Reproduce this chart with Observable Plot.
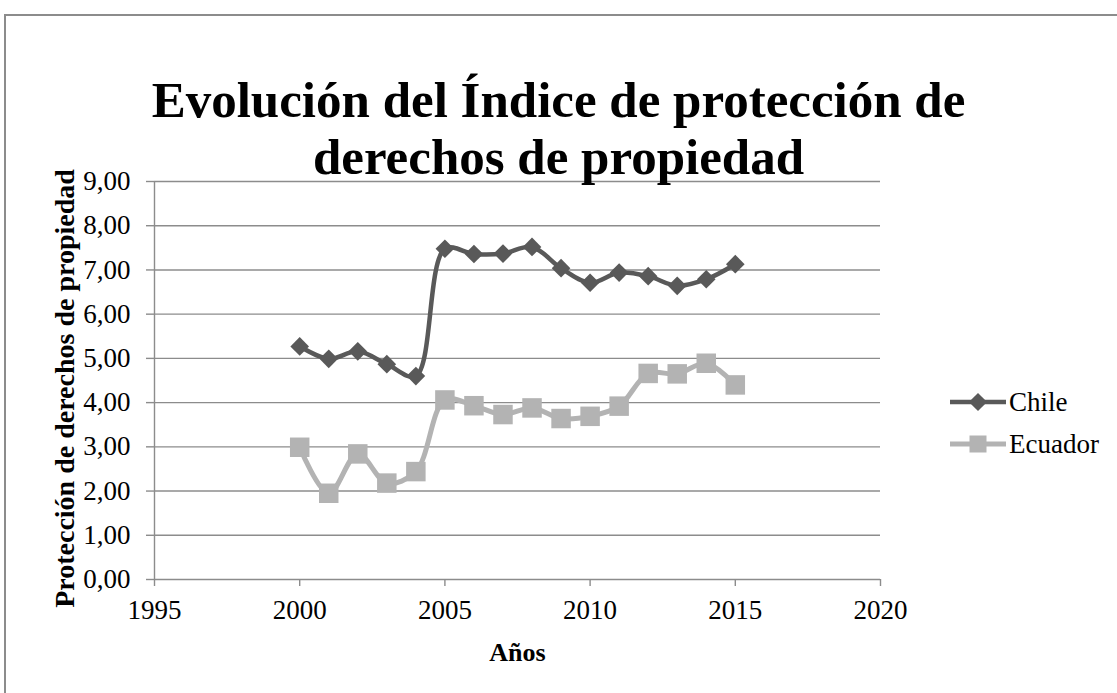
<!DOCTYPE html>
<html>
<head>
<meta charset="utf-8">
<script src="https://cdn.jsdelivr.net/npm/d3@7"></script>
<script src="https://cdn.jsdelivr.net/npm/@observablehq/plot@0.6"></script>
<style>
  html, body { margin: 0; padding: 0; background: #fff; }
  #wrap { position: relative; width: 1117px; height: 693px; overflow: hidden; background: #fff; }
  #border { position: absolute; left: 4px; top: 14px; width: 1300px; height: 1000px; border: 2px solid #8c8c8c; box-sizing: border-box; }
  #chart { position: absolute; left: 0; top: 0; }
  #legend { position: absolute; left: 0; top: 0; }
</style>
</head>
<body>
<div id="wrap">
  <div id="border"></div>
  <div id="chart"></div>
  <svg id="legend" width="1117" height="693"></svg>
</div>
<script>
const title = "Evolución del Índice de protección de\nderechos de propiedad";
const xLabel = "Años";
const yLabel = "Protección de derechos de propiedad";
const seriesNames = ["Chile", "Ecuador"];
const years = [2000, 2001, 2002, 2003, 2004, 2005, 2006, 2007, 2008, 2009, 2010, 2011, 2012, 2013, 2014, 2015];
const chile = [5.27, 4.99, 5.16, 4.87, 4.60, 7.48, 7.36, 7.37, 7.52, 7.04, 6.71, 6.94, 6.86, 6.64, 6.79, 7.13];
const ecuador = [2.99, 1.95, 2.84, 2.18, 2.44, 4.06, 3.93, 3.73, 3.88, 3.64, 3.69, 3.92, 4.66, 4.65, 4.89, 4.40];
const xTicks = [1995, 2000, 2005, 2010, 2015, 2020];
const yTicks = [0, 1, 2, 3, 4, 5, 6, 7, 8, 9];
const colors = ["#595959", "#b3b3b3"];

const chileData = years.map((y, i) => ({year: y, value: chile[i]}));
const ecuadorData = years.map((y, i) => ({year: y, value: ecuador[i]}));
const fmt = d => d.toFixed(2).replace(".", ",");
const serif = '"Liberation Serif", "DejaVu Serif", serif';
const grid = "#8c8c8c";

const chart = Plot.plot({
  width: 1117,
  height: 693,
  marginLeft: 154,
  marginRight: 237,
  marginTop: 181,
  marginBottom: 114,
  x: {domain: [1995, 2020]},
  y: {domain: [0, 9]},
  style: {fontFamily: serif, fontSize: "27px", color: "#000", background: "transparent", overflow: "visible"},
  marks: [
    Plot.ruleY(yTicks, {stroke: grid, strokeWidth: 1.4}),
    Plot.ruleX([1995], {stroke: grid, strokeWidth: 1.4}),
    Plot.axisY({ticks: yTicks, tickSize: 8, tickPadding: 16, tickFormat: fmt, stroke: grid, strokeWidth: 1.4, fill: "#000", label: null, fontSize: 27}),
    Plot.axisX({ticks: xTicks, tickSize: 7, tickPadding: 13, tickFormat: d => String(d), stroke: grid, strokeWidth: 1.4, fill: "#000", label: null, fontSize: 27}),
    Plot.line(chileData, {x: "year", y: "value", stroke: colors[0], strokeWidth: 4.5, curve: "catmull-rom"}),
    Plot.dot(chileData, {x: "year", y: "value", symbol: "diamond2", r: 8.4, fill: colors[0], stroke: "none"}),
    Plot.line(ecuadorData, {x: "year", y: "value", stroke: colors[1], strokeWidth: 5, curve: "catmull-rom"}),
    Plot.dot(ecuadorData, {x: "year", y: "value", symbol: "square", r: 11, fill: colors[1], stroke: "none"}),
    Plot.text([title], {frameAnchor: "top", dx: 41, dy: -54, lineAnchor: "middle", lineHeight: 1.1, fontSize: 51, fontWeight: "bold", fill: "#000"}),
    Plot.text([yLabel], {frameAnchor: "left", textAnchor: "middle", dx: -89, dy: 8, rotate: -90, fontSize: 28, fontWeight: "bold", fill: "#000"}),
    Plot.text([xLabel], {frameAnchor: "bottom", dy: 81, fontSize: 26, fontWeight: "bold", fill: "#000"})
  ]
});
document.getElementById("chart").appendChild(chart);

// legend
const lg = d3.select("#legend");
const legendRows = [{name: seriesNames[0], color: colors[0], y: 402, sym: "diamond"}, {name: seriesNames[1], color: colors[1], y: 444, sym: "square"}];
legendRows.forEach(r => {
  lg.append("line").attr("x1", 950).attr("x2", 1006).attr("y1", r.y).attr("y2", r.y).attr("stroke", r.color).attr("stroke-width", r.sym === "square" ? 5 : 4.5);
  if (r.sym === "diamond") {
    lg.append("path").attr("d", d3.symbol(d3.symbolDiamond2, Math.PI * 8.2 * 8.2)()).attr("transform", `translate(978,${r.y})`).attr("fill", r.color);
  } else {
    lg.append("rect").attr("x", 978 - 8.5).attr("y", r.y - 8.5).attr("width", 17).attr("height", 17).attr("fill", r.color);
  }
  lg.append("text").attr("x", 1009).attr("y", r.y).attr("dy", "0.35em").attr("font-family", serif).attr("font-size", 27).attr("fill", "#000").text(r.name);
});
</script>
</body>
</html>
